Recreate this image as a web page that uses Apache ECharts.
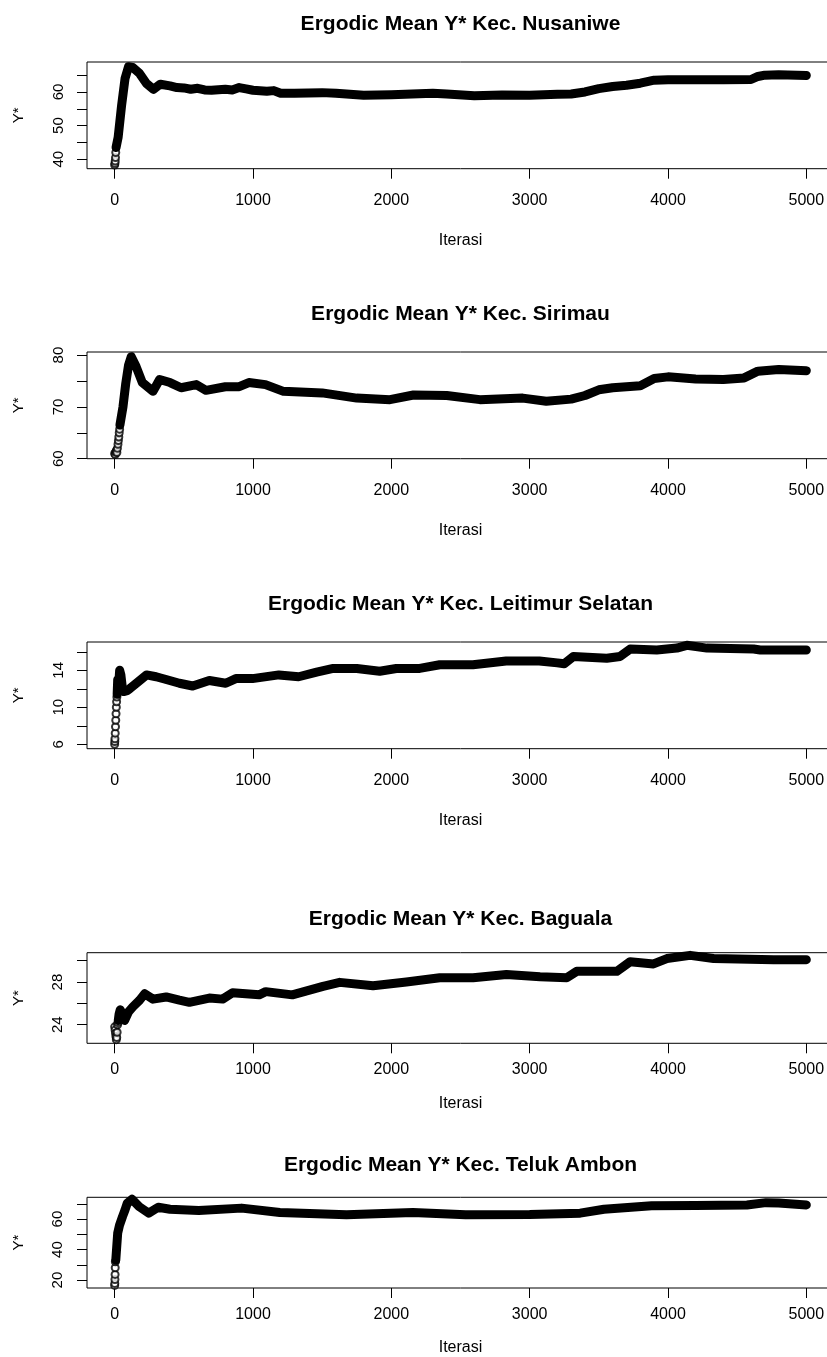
<!DOCTYPE html>
<html><head><meta charset="utf-8">
<script src="https://cdn.jsdelivr.net/npm/echarts@6/dist/echarts.min.js"></script>
<style>html,body{margin:0;padding:0;overflow:hidden;background:#fff}#c{width:840px;height:1357px}</style>
</head><body><div id="c"></div>
<script>
// ---------- DATA ----------
const titles = [
  'Ergodic Mean Y* Kec. Nusaniwe',
  'Ergodic Mean Y* Kec. Sirimau',
  'Ergodic Mean Y* Kec. Leitimur Selatan',
  'Ergodic Mean Y* Kec. Baguala',
  'Ergodic Mean Y* Kec. Teluk Ambon'
];
const xName = 'Iterasi';
const yName = 'Y*';
const xTicks = [0, 1000, 2000, 3000, 4000, 5000];

const yTicks1 = [40, 45, 50, 55, 60, 65];
const yLabels1 = [40, 50, 60];
const yTicks2 = [60, 65, 70, 75, 80];
const yLabels2 = [60, 70, 80];
const yTicks3 = [6, 8, 10, 12, 14, 16];
const yLabels3 = [6, 10, 14];
const yTicks4 = [24, 26, 28, 30];
const yLabels4 = [24, 28];
const yTicks5 = [20, 30, 40, 50, 60, 70];
const yLabels5 = [20, 40, 60];

// Panel 1: Nusaniwe
const circIter1 = [0, 2, 4, 6, 8];
const circVal1 = [38.3, 38.8, 39.5, 40.5, 42.0];
const iter1 = [10, 25, 50, 75, 100, 130, 180, 230, 280, 330, 400, 450, 500, 550, 600, 650, 700, 800, 850, 900, 950, 1000, 1100, 1150, 1200, 1300, 1400, 1500, 1600, 1700, 1800, 2000, 2200, 2300, 2400, 2600, 2800, 3000, 3200, 3300, 3400, 3500, 3600, 3700, 3800, 3900, 4000, 4200, 4400, 4600, 4650, 4700, 4800, 5000];
const val1 = [43.5, 46.5, 56, 64, 67.5, 67.3, 65.5, 62.5, 60.8, 62.3, 61.8, 61.3, 61.2, 60.8, 61.1, 60.6, 60.5, 60.8, 60.6, 61.3, 60.9, 60.5, 60.2, 60.4, 59.6, 59.6, 59.7, 59.8, 59.6, 59.3, 59.0, 59.2, 59.5, 59.6, 59.4, 58.9, 59.1, 59.0, 59.3, 59.4, 60.0, 61.0, 61.6, 62.0, 62.6, 63.5, 63.6, 63.6, 63.6, 63.7, 64.6, 65.0, 65.1, 64.9];

// Panel 2: Sirimau
const circIter2 = [0, 4, 8, 12, 16, 20, 24, 27, 30, 33, 36];
const circVal2 = [61.0, 60.8, 61.3, 61.6, 61.2, 62.0, 62.8, 63.5, 64.2, 65.0, 65.7];
const iter2 = [38, 60, 80, 100, 120, 155, 200, 277, 325, 400, 480, 590, 660, 800, 900, 970, 1090, 1220, 1500, 1750, 1990, 2160, 2400, 2640, 2950, 3120, 3300, 3400, 3500, 3600, 3800, 3900, 4000, 4200, 4400, 4550, 4650, 4800, 5000];
const val2 = [66.5, 70, 74.5, 78, 79.7, 77.8, 74.7, 73, 75.3, 74.7, 73.7, 74.3, 73.2, 73.9, 73.9, 74.7, 74.3, 73, 72.7, 71.7, 71.4, 72.3, 72.2, 71.4, 71.7, 71.1, 71.5, 72.2, 73.3, 73.7, 74.1, 75.5, 75.8, 75.4, 75.3, 75.6, 76.9, 77.2, 77.0];

// Panel 3: Leitimur Selatan
const circIter3 = [0, 1, 2, 4, 6, 8, 10, 12, 14, 16];
const circVal3 = [6.0, 6.3, 6.6, 7.2, 7.9, 8.6, 9.3, 10.0, 10.6, 11.1];
const iter3 = [18, 22, 28, 36, 45, 55, 65, 90, 108, 157, 230, 300, 372, 468, 564, 684, 803, 876, 996, 1187, 1330, 1460, 1580, 1750, 1916, 2036, 2205, 2350, 2590, 2830, 3070, 3200, 3250, 3316, 3557, 3654, 3726, 3919, 4064, 4136, 4281, 4619, 4667, 5000];
const val3 = [11.4, 13.0, 12.2, 14.0, 13.5, 12.2, 11.7, 11.8, 12.0, 12.6, 13.5, 13.3, 13.0, 12.6, 12.3, 12.9, 12.6, 13.1, 13.1, 13.5, 13.3, 13.8, 14.2, 14.2, 13.9, 14.2, 14.2, 14.6, 14.6, 15.0, 15.0, 14.8, 14.7, 15.5, 15.3, 15.5, 16.3, 16.2, 16.4, 16.7, 16.4, 16.3, 16.2, 16.2];

// Panel 4: Baguala
const circIter4 = [0, 3, 6, 9, 12, 15, 18, 21, 24];
const circVal4 = [23.8, 23.5, 23.2, 22.9, 22.6, 22.8, 23.3, 24.0, 24.2];
const iter4 = [26, 32, 40, 55, 72, 100, 133, 180, 217, 277, 372, 468, 540, 684, 780, 852, 1044, 1092, 1284, 1506, 1627, 1868, 2109, 2350, 2591, 2832, 3075, 3268, 3340, 3630, 3726, 3895, 3992, 4160, 4330, 4764, 5000];
const val4 = [24.4, 25.0, 25.4, 25.0, 24.4, 25.2, 25.7, 26.3, 26.9, 26.4, 26.6, 26.3, 26.1, 26.5, 26.4, 27.0, 26.8, 27.1, 26.8, 27.6, 27.97, 27.65, 28.0, 28.4, 28.4, 28.7, 28.5, 28.4, 29.0, 29.0, 29.9, 29.7, 30.2, 30.5, 30.2, 30.1, 30.1];

// Panel 5: Teluk Ambon
const circIter5 = [0, 1, 2, 3, 4, 5];
const circVal5 = [16.5, 17.8, 20.4, 23.7, 28.1, 32.0];
const iter5 = [8, 15, 22, 35, 57, 75, 91, 126, 177, 246, 315, 400, 608, 918, 1194, 1676, 2156, 2537, 3000, 3365, 3537, 3881, 4200, 4571, 4708, 4800, 5000];
const val5 = [33, 42, 50.9, 56, 61.7, 66, 70.4, 73, 68.2, 63.9, 67.8, 66.5, 65.6, 67.2, 64.3, 62.8, 64.3, 62.8, 63, 63.9, 66.5, 68.7, 69, 69.3, 70.8, 70.5, 69.3];

// ---------- LAYOUT ----------
const panels = [
  {ci: circIter1, cv: circVal1, it: iter1, v: val1, yt: yTicks1, yl: yLabels1},
  {ci: circIter2, cv: circVal2, it: iter2, v: val2, yt: yTicks2, yl: yLabels2},
  {ci: circIter3, cv: circVal3, it: iter3, v: val3, yt: yTicks3, yl: yLabels3},
  {ci: circIter4, cv: circVal4, it: iter4, v: val4, yt: yTicks4, yl: yLabels4},
  {ci: circIter5, cv: circVal5, it: iter5, v: val5, yt: yTicks5, yl: yLabels5}
];
const layout = [
  {top: 62,     h: 106.7, tTop: 14,   xm: 24, xg: 63.5, ym: 21, ymin: 37.2, ymax: 68.9},
  {top: 352,    h: 106.7, tTop: 304,  xm: 24, xg: 63.5, ym: 21, ymin: 60.0, ymax: 80.6},
  {top: 642,    h: 106.7, tTop: 594,  xm: 24, xg: 63.5, ym: 21, ymin: 5.52, ymax: 17.06},
  {top: 952.7,  h: 90.6,  tTop: 909,  xm: 18, xg: 52,   ym: 22, ymin: 22.26, ymax: 30.75},
  {top: 1197.3, h: 91.4,  tTop: 1155, xm: 19, xg: 52,   ym: 22, ymin: 14.8, ymax: 74.3}
];
const FONT = '"Liberation Sans", Arial, sans-serif';
const GL = 87, GW = 747;
const plain = v => String(v);

const option = {animation: false, backgroundColor: '#fff', title: [], grid: [], xAxis: [], yAxis: [], series: []};
panels.forEach((p, i) => {
  const L = layout[i];
  option.title.push({text: titles[i], left: GL + GW / 2, top: L.tTop, textAlign: 'center', padding: 0,
    textStyle: {fontFamily: FONT, fontSize: 21, fontWeight: 'bold', color: '#000'}});
  option.grid.push({left: GL, top: L.top, width: GW, height: L.h, show: true,
    borderColor: '#000', borderWidth: 1, backgroundColor: 'transparent'});
  option.xAxis.push({type: 'value', gridIndex: i, min: -200, max: 5200, position: 'bottom',
    axisLine: {show: false, onZero: false}, splitLine: {show: false},
    axisTick: {show: true, inside: false, length: 10, customValues: xTicks, lineStyle: {color: '#000', width: 1}},
    axisLabel: {customValues: xTicks, formatter: plain, margin: L.xm, fontFamily: FONT, fontSize: 16, color: '#000'},
    name: xName, nameLocation: 'middle', nameGap: L.xg,
    nameTextStyle: {fontFamily: FONT, fontSize: 16, color: '#000'}});
  option.yAxis.push({type: 'value', gridIndex: i, min: L.ymin, max: L.ymax, position: 'left',
    axisLine: {show: false, onZero: false}, splitLine: {show: false},
    axisTick: {show: true, inside: false, length: 10, customValues: p.yt, lineStyle: {color: '#000', width: 1}},
    axisLabel: {customValues: p.yl, formatter: plain, rotate: 90, margin: L.ym, fontFamily: FONT, fontSize: 15, color: '#000'},
    name: yName, nameLocation: 'middle', nameGap: 61, nameRotate: 90,
    nameTextStyle: {fontFamily: FONT, fontSize: 15, color: '#000'}});
  option.series.push({type: 'scatter', xAxisIndex: i, yAxisIndex: i, z: 2,
    symbol: 'emptyCircle', symbolSize: 7,
    itemStyle: {color: '#000', borderColor: '#000', borderWidth: 1.5},
    data: p.ci.map((x, j) => [x, p.cv[j]])});
  option.series.push({type: 'line', xAxisIndex: i, yAxisIndex: i, z: 3,
    symbol: 'none', smooth: false, clip: true,
    lineStyle: {color: '#000', width: 9, cap: 'round', join: 'round'},
    data: p.it.map((x, j) => [x, p.v[j]])});
});
const chart = echarts.init(document.getElementById('c'), null, {renderer: 'canvas'});
chart.setOption(option);
</script></body></html>
